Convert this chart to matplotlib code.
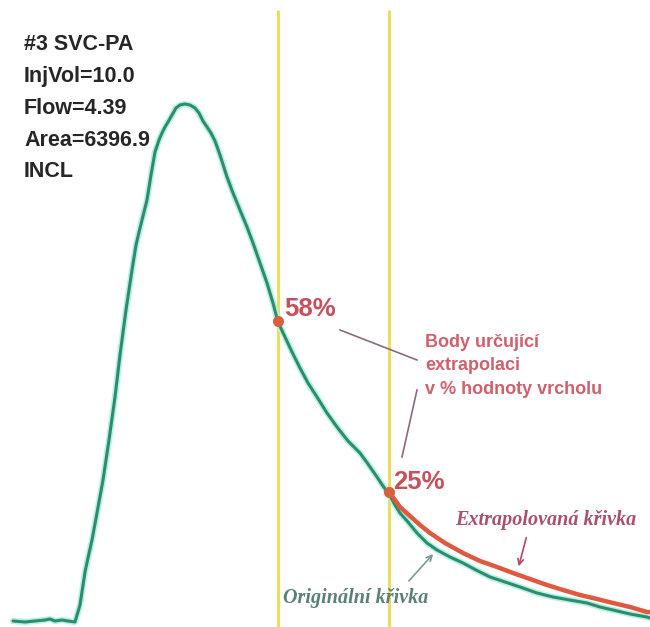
import matplotlib
matplotlib.use("Agg")
import matplotlib.pyplot as plt

# termodiluční křivka (čas ve vzorcích, signál v relativních jednotkách)
t_orig = [13, 25, 35, 45, 50, 55, 62, 68, 75, 80, 85, 88, 92, 97, 103, 109, 115, 120,
          126, 132, 136, 140, 144, 147, 151, 155, 159, 162, 165, 168, 172, 176, 180,
          185, 190, 195, 199, 203, 207, 211, 215, 220, 227, 233, 240, 247, 253, 260,
          267, 273, 278, 285, 293, 300, 308, 317, 327, 337, 348, 360, 368, 377, 383,
          389, 395, 400, 408, 417, 427, 437, 450, 463, 476, 490, 505, 520, 537, 553,
          570, 587, 600, 613, 630, 647, 650]
y_orig = [0, -1, 0, 1, 2, 0, 1, 0, -1, 16, 49, 63, 81, 108, 141, 181, 224, 266,
          311, 351, 376, 393, 409, 421, 446, 469, 481, 488, 494, 499, 506, 513, 516,
          517, 516, 513, 508, 500, 494, 488, 480, 466, 444, 428, 411, 394, 378, 358,
          338, 318, 299, 284, 267, 253, 238, 224, 208, 194, 180, 168, 157, 144, 135,
          127, 116, 108, 99, 88, 78, 71, 64, 58, 51, 44, 39, 34, 28, 24,
          21, 18, 14, 11, 7, 4, 3]

# extrapolovaný úsek od bodu 25 %
t_extra = [389, 395, 400, 410, 420, 430, 445, 463, 480, 497, 513, 530, 547, 563,
           580, 597, 613, 630, 647, 650]
y_extra = [129, 121, 114, 105, 96, 88, 78, 68, 60, 54, 48, 42, 36, 31,
           26, 22, 18, 14, 9, 9]

peak = max(y_orig)
pct_points = [0.58, 0.25]
t_points = [278, 389]

header = ["#3 SVC-PA", "InjVol=10.0", "Flow=4.39", "Area=6396.9", "INCL"]

fig = plt.figure(figsize=(6.5, 6.27), dpi=100)
ax = fig.add_axes([0, 0, 1, 1])
ax.set_xlim(0, 650)
ax.set_ylim(-6, 621)
ax.axis("off")

# svislé čáry v místech bodů extrapolace
ax.vlines(t_points, -6, 611, color="#ecdd5c", lw=2.2, zorder=1)

# původní křivka se světlým lemem
ax.plot(t_orig, y_orig, color="#b5f2e4", lw=4.5, solid_capstyle="round", zorder=2)
ax.plot(t_orig, y_orig, color="#2f8b6d", lw=2.2, solid_capstyle="round", zorder=3)
ax.plot(t_extra, y_extra, color="#e0583e", lw=3.2, solid_capstyle="round", zorder=4)

for t, p in zip(t_points, pct_points):
    ax.plot(t, p * peak, "o", color="#d8603c", ms=7, zorder=5)

sans = ["Liberation Sans", "DejaVu Sans"]
ax.text(t_points[0] + 6, pct_points[0] * peak + 12, "{:.0f}%".format(pct_points[0] * 100),
        color="#c8505c", fontsize=18.5, fontweight="bold", family=sans, va="center", ha="left")
ax.text(t_points[1] + 4, pct_points[1] * peak + 10, "{:.0f}%".format(pct_points[1] * 100),
        color="#c8505c", fontsize=18.5, fontweight="bold", family=sans, va="center", ha="left")

for i, line in enumerate(header):
    ax.text(24, 576 - i * 31.7, line, color="#262626", fontsize=15.5, fontweight="bold",
            family=sans, va="center", ha="left")

ax.text(425, 255, "Body určující\nextrapolaci\nv % hodnoty vrcholu", color="#d0606c",
        fontsize=13, fontweight="bold", family=sans, va="center", ha="left",
        linespacing=1.5)

# spojnice popisu k bodům
ax.plot([340, 417], [291, 261], color="#8a6a80", lw=1.2)
ax.plot([417, 402], [231, 164], color="#8a6a80", lw=1.2)

ax.text(455, 101, "Extrapolovaná křivka", color="#a8506c", fontsize=14.5,
        style="italic", fontweight="bold", family="Liberation Serif", va="center", ha="left")
ax.annotate("", xy=(518, 52), xytext=(527, 86),
            arrowprops=dict(arrowstyle="->", color="#b04a62", lw=1.2))

ax.text(283, 23, "Originální křivka", color="#5a8078", fontsize=14.5,
        style="italic", fontweight="bold", family="Liberation Serif", va="center", ha="left")
ax.annotate("", xy=(435, 69), xytext=(407, 38),
            arrowprops=dict(arrowstyle="->", color="#7a9a98", lw=1.2))

fig.savefig("out.png", dpi=100)
